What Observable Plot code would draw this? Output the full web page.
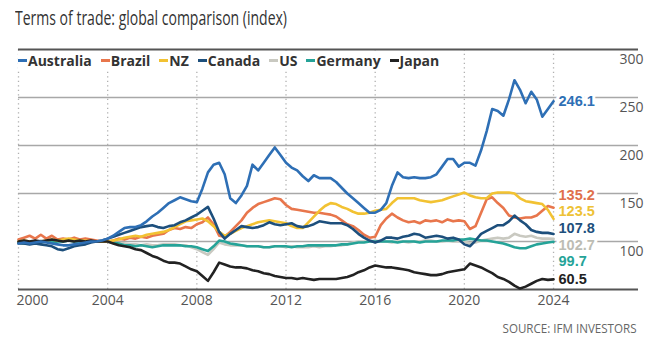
<!DOCTYPE html>
<html>
<head>
<meta charset="utf-8">
<script src="https://cdn.jsdelivr.net/npm/d3@7"></script>
<script src="https://cdn.jsdelivr.net/npm/@observablehq/plot@0.6"></script>
<style>
  html, body { margin: 0; padding: 0; background: #fff; }
  #wrap { position: relative; width: 650px; height: 345px; overflow: hidden; font-family: "Open Sans", sans-serif; }
  #title { position: absolute; left: 15px; top: 5px; font-size: 20.5px; line-height: 24px; color: #333; white-space: nowrap; transform-origin: 0 50%; }
  #chart { position: absolute; left: 0; top: 0; }
  #legend { position: absolute; left: 18px; top: 51px; height: 19px; padding-right: 4px; background: #fff; display: flex; align-items: center; gap: 9px; font-weight: 700; font-size: 14px; color: #333; white-space: nowrap; }
  #legend .item { display: flex; align-items: center; gap: 1px; }
  #legend .sw { width: 9px; height: 3px; display: inline-block; }
  #source { position: absolute; right: 13px; top: 321px; font-size: 12.5px; line-height: 16px; color: #666; white-space: nowrap; transform-origin: 100% 50%; }
</style>
</head>
<body>
<div id="wrap">
  <div id="chart"></div>
  <div id="title">Terms of trade: global comparison (index)</div>
  <div id="legend"></div>
  <div id="source">SOURCE: IFM INVESTORS</div>
</div>
<script>
// Quarterly observations, 2000 Q1 .. 2024 Q1 (index)
const seriesNames = ["Australia", "Brazil", "NZ", "Canada", "US", "Germany", "Japan"];
const seriesColors = ["#2e6fb5", "#e8764c", "#f2c232", "#1d4f7c", "#c9c9c1", "#25a398", "#222222"];
const labelColors  = ["#2e6fb5", "#e0704c", "#eec236", "#1d4f7c", "#bdbdb4", "#25a398", "#222222"];

const australia = [98,99,98,99, 100,99,98,97, 96,96,97,98, 99,100,100,101, 103,106,110,114, 115,115,117,121, 126,130,135,140, 143,146,144,142, 141,155,172,180, 182,170,145,140, 148,158,180,174, 182,190,198,190, 182,177,174,168, 163,169,166,166, 166,162,156,150, 145,140,135,130, 130,133,140,158, 172,167,166,167, 166,166,167,170, 178,186,186,178, 182,182,179,195, 215,238,236,231, 248,268,258,244, 256,248,230,238, 246.1];
const brazil = [102,104,106,103, 107,103,106,102, 103,102,104,102, 103,102,101,100, 100,101,103,102, 104,103,105,104, 106,107,108,112, 114,113,115,114, 118,120,125,118, 106,105,110,116, 122,130,135,139, 141,143,145,144, 138,134,133,132, 131,130,130,129, 128,126,122,118, 116,112,107,104, 105,117,124,129, 125,122,120,121, 119,122,121,122, 120,123,121,122, 121,113,116,130, 144,146,140,135, 127,125,124,125, 125,127,132,137, 135.2];
const nz = [100,101,100,99, 100,101,102,101, 102,103,102,101, 101,100,100,100, 100,101,102,104, 105,106,105,107, 108,109,110,112, 115,118,121,122, 123,124,121,116, 110,106,108,111, 114,116,118,120, 121,122,121,120, 119,116,114,114, 120,126,132,137, 140,139,136,134, 131,129,129,130, 132,133,134,140, 145,145,145,145, 143,142,141,142, 143,145,147,149, 151,148,146,145, 145,150,151,151, 151,150,145,142, 141,140,139,133, 123.5];
const canada = [98,98,97,98, 97,96,95,92, 91,93,95,96, 97,99,100,101, 103,105,107,109, 111,113,115,116, 117,115,114,116, 117,120,122,125, 128,132,136,124, 110,103,108,112, 116,115,114,115, 117,120,118,117, 118,119,116,115, 116,118,121,120, 119,119,119,117, 113,108,104,101, 99,101,104,104, 103,105,106,108, 107,104,105,106, 105,103,104,102, 97,95,101,108, 111,114,117,117, 121,127,122,118, 112,110,109,109, 107.8];
const us = [100,100,99,100, 101,100,99,100, 100,101,100,99, 100,100,100,100, 100,99,98,98, 97,97,96,97, 96,96,97,97, 97,96,96,94, 92,89,86,92, 99,97,96,96, 96,95,95,95, 94,94,95,95, 94,95,94,94, 94,95,94,95, 95,96,96,97, 99,100,100,100, 101,100,100,99, 100,100,99,100, 100,101,101,100, 100,101,100,100, 100,98,99,101, 102,103,104,103, 104,108,106,105, 106,104,103,103, 102.7];
const germany = [99,98,98,99, 99,100,99,100, 100,101,100,100, 101,100,100,100, 100,99,98,96, 96,95,96,95, 94,95,96,96, 96,96,95,95, 94,92,90,95, 101,100,98,97, 96,95,95,95, 94,94,95,95, 95,94,95,95, 96,96,96,96, 96,96,97,97, 98,99,99,100, 100,100,100,100, 99,100,100,100, 99,100,100,100, 101,101,101,102, 102,103,102,101, 101,100,99,98, 96,94,93,93, 95,97,98,99, 99.7];
const japan = [100,101,100,101, 100,101,102,101, 100,101,100,101, 100,101,100,100, 100,98,96,95, 94,92,91,88, 85,83,80,78, 78,77,74,71, 69,64,59,68, 78,76,74,73, 73,72,70,69, 67,66,64,63, 62,62,61,62, 61,60,61,61, 61,61,62,63, 65,68,70,73, 75,74,73,73, 72,71,70,68, 67,66,65,65, 66,68,69,70, 71,77,75,73, 70,67,63,61, 58,54,51,53, 56,59,61,60, 60.5];

const xTickYears = [2000, 2004, 2008, 2012, 2016, 2020, 2024];
const yTicks = [100, 150, 200, 250, 300];
const gridValues = [100, 150, 200, 250];

const seriesValues = [australia, brazil, nz, canada, us, germany, japan];
const dates = d3.range(australia.length).map(i => new Date(Date.UTC(2000, 3 * i, 1)));
const series = seriesNames.map((name, k) => ({
  name, color: seriesColors[k], labelColor: labelColors[k],
  rows: seriesValues[k].map((v, i) => ({date: dates[i], value: v}))
}));

// end labels, spread vertically so they do not collide
const labels = series.map(s => ({name: s.name, color: s.labelColor, value: s.rows[s.rows.length - 1].value, date: s.rows[s.rows.length - 1].date}))
  .sort((a, b) => b.value - a.value);
labels.forEach(d => d.pos = d.value);
const gap = 17.3;
for (let it = 0; it < 300; it++) {
  for (let i = 1; i < labels.length; i++) {
    const d = labels[i - 1].pos - labels[i].pos;
    if (d < gap) { const m = (gap - d) / 2; labels[i - 1].pos += m; labels[i].pos -= m; }
  }
}

const yearDate = y => new Date(Date.UTC(y, 0, 1));
const drawOrder = ["US", "Germany", "Brazil", "NZ", "Canada", "Japan", "Australia"];

const chart = Plot.plot({
  width: 650, height: 345,
  marginTop: 49, marginBottom: 56, marginLeft: 18, marginRight: 12,
  x: {type: "utc", domain: [yearDate(2000), new Date(Date.UTC(2027, 9, 24))]},
  y: {domain: [50, 300]},
  style: {fontFamily: "'Open Sans', sans-serif", fontSize: "14px", color: "#555", background: "transparent"},
  marks: [
    Plot.ruleX(xTickYears.map(yearDate), {y1: 50, y2: 300, stroke: "#b0b0b0", strokeWidth: 1.3, strokeDasharray: "1.3,3.2"}),
    Plot.ruleY(gridValues, {stroke: "#a8a8a8", strokeWidth: 1.4}),
    Plot.ruleY([300], {stroke: "#555", strokeWidth: 2}),
    Plot.ruleY([50], {stroke: "#555", strokeWidth: 2}),
    Plot.axisX(xTickYears.slice(1).map(yearDate), {tickSize: 0, tickPadding: 6, tickFormat: d3.utcFormat("%Y"), fontSize: 14, label: null}),
    Plot.axisX([yearDate(xTickYears[0])], {tickSize: 0, tickPadding: 6, tickFormat: d3.utcFormat("%Y"), textAnchor: "start", dx: -2, fontSize: 14, label: null}),
    Plot.axisY(yTicks, {anchor: "right", tickSize: 0, textAnchor: "end", dx: -4, dy: 10, fontSize: 14, label: null}),
    ...drawOrder.map(n => {
      const s = series.find(d => d.name === n);
      return Plot.line(s.rows, {x: "date", y: "value", stroke: s.color, strokeWidth: 2.6, strokeLinejoin: "round"});
    }),
    Plot.text(labels, {x: "date", y: "pos", text: d => d.value.toFixed(1), fill: "color", textAnchor: "start", dx: 5, fontSize: 14.5, fontWeight: 700, fontFamily: "'Liberation Sans', Arial, sans-serif", stroke: "white", strokeWidth: 6})
  ]
});
document.getElementById("chart").appendChild(chart);

// legend
const legend = document.getElementById("legend");
series.forEach(s => {
  const it = document.createElement("span");
  it.className = "item";
  const sw = document.createElement("span");
  sw.className = "sw";
  sw.style.background = s.color;
  const tx = document.createElement("span");
  tx.textContent = s.name;
  it.appendChild(sw); it.appendChild(tx);
  legend.appendChild(it);
});

// condensed headline and source
function fitWidth(el, target) {
  const w = el.getBoundingClientRect().width;
  if (w > 0) el.style.transform = `scaleX(${target / w})`;
}
fitWidth(document.getElementById("title"), 272);
fitWidth(document.getElementById("source"), 134);
</script>
</body>
</html>
